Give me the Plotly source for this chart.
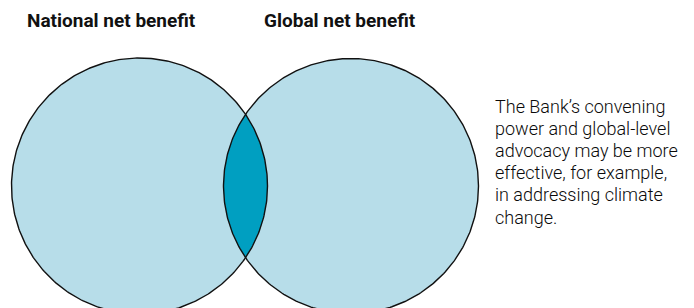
import numpy as np
import plotly.graph_objects as go

# ---- data ----
set_names = ["National net benefit", "Global net benefit"]
set_centers_x = [139.5, 351.0]   # circle centres (pixel-like units)
set_centers_y = [186.0, 186.0]
set_radius = [128.0, 127.5]
note_lines = [
    "The Bank\u2019s convening",
    "power and global-level",
    "advocacy may be more",
    "effective, for example,",
    "in addressing climate",
    "change.",
]

# ---- style ----
W, H = 694, 308
LIGHT = "#b7dde9"
DARK = "#009fc1"
EDGE = "#111111"
FONT = "Roboto"

def circle_pts(cx, cy, r, a0=0.0, a1=2 * np.pi, n=400):
    t = np.linspace(a0, a1, n)
    return cx + r * np.cos(t), cy + r * np.sin(t)

fig = go.Figure()

# fills
for cx, cy, r in zip(set_centers_x, set_centers_y, set_radius):
    x, y = circle_pts(cx, cy, r)
    fig.add_trace(go.Scatter(x=x, y=y, mode="lines", fill="toself",
                             fillcolor=LIGHT, line=dict(width=0),
                             hoverinfo="skip", showlegend=False))

# intersection lens
(x1, x2), (y1, y2), (r1, r2) = set_centers_x, set_centers_y, set_radius
d = np.hypot(x2 - x1, y2 - y1)
a = (d**2 + r1**2 - r2**2) / (2 * d)
h = np.sqrt(r1**2 - a**2)
ang1 = np.arctan2(h, a)                 # half-angle on circle 1
ang2 = np.arctan2(h, d - a)             # half-angle on circle 2
lx1, ly1 = circle_pts(x1, y1, r1, -ang1, ang1, 200)
lx2, ly2 = circle_pts(x2, y2, r2, np.pi - ang2, np.pi + ang2, 200)
fig.add_trace(go.Scatter(x=np.concatenate([lx1, lx2]),
                         y=np.concatenate([ly1, ly2]),
                         mode="lines", fill="toself", fillcolor=DARK,
                         line=dict(width=0), hoverinfo="skip", showlegend=False))

# outlines
for cx, cy, r in zip(set_centers_x, set_centers_y, set_radius):
    x, y = circle_pts(cx, cy, r)
    fig.add_trace(go.Scatter(x=x, y=y, mode="lines",
                             line=dict(color=EDGE, width=1.4),
                             hoverinfo="skip", showlegend=False))

annotations = []
title_x = [25, 262]
for name, tx in zip(set_names, title_x):
    annotations.append(dict(x=tx, y=20, xref="x", yref="y", text=f"<b>{name}</b>",
                            showarrow=False, xanchor="left", yanchor="middle",
                            font=dict(family=FONT, size=19, color="#111111")))
for i, line in enumerate(note_lines):
    annotations.append(dict(x=493, y=106 + i * 22.2, xref="x", yref="y", text=line,
                            showarrow=False, xanchor="left", yanchor="middle",
                            font=dict(family=FONT, size=18, color="#0a0a0a", weight=300)))

fig.update_layout(
    width=W, height=H,
    margin=dict(l=0, r=0, t=0, b=0),
    paper_bgcolor="white", plot_bgcolor="white",
    xaxis=dict(range=[0, W], visible=False, fixedrange=True),
    yaxis=dict(range=[H, 0], visible=False, fixedrange=True),
    annotations=annotations,
    showlegend=False,
)

fig.write_html("out.html", config={"displayModeBar": False},
               post_script="document.body.style.margin='0';document.body.style.overflow='hidden';")
